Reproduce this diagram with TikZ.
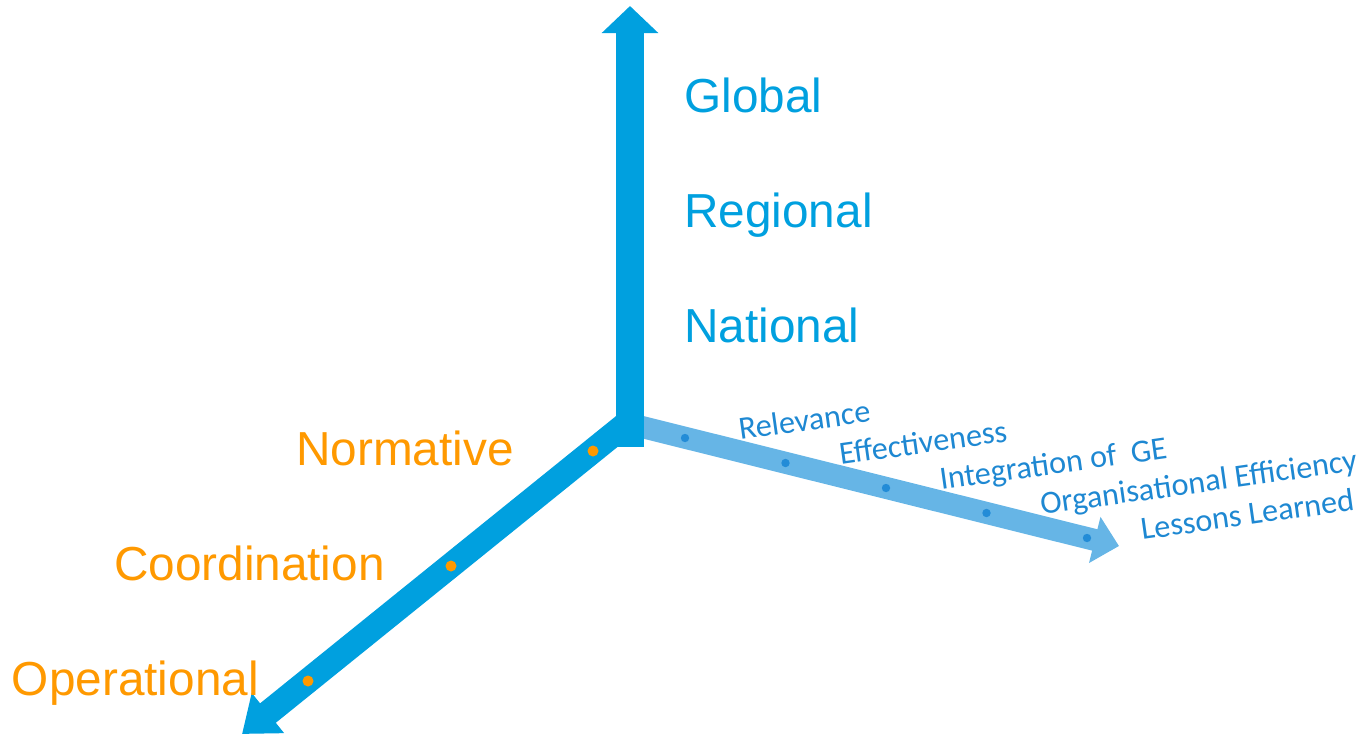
\documentclass[tikz,border=0pt]{standalone}
\usepackage{fontspec}
\setmainfont{Liberation Sans}
\newfontfamily\calibrifont{Carlito}
\usepackage{tikz}
\usetikzlibrary{arrows.meta}
\definecolor{axisblue}{RGB}{0,160,223}
\definecolor{critblue}{RGB}{102,181,230}
\definecolor{critdot}{RGB}{35,140,215}
\definecolor{labelblue}{RGB}{30,136,210}
\definecolor{levelorange}{RGB}{255,153,0}

\begin{document}
\begin{tikzpicture}[x=0.75pt, y=-0.75pt,
    bigtext/.style={font=\fontsize{35.8}{42}\selectfont, inner sep=0pt},
    crittext/.style={font=\calibrifont\fontsize{24.2}{29}\selectfont, text=labelblue,
        inner sep=0pt, anchor=base west, rotate=8}]
\useasboundingbox (0,0) rectangle (1367,736);
\coordinate (origin) at (630,424);
\coordinate (top) at (630,6);
\coordinate (front) at (242,734);
\coordinate (right) at (1119,546);
% criteria axis
\draw[critblue, line width=16.5pt, -{Triangle[length=18.75pt, width=34.5pt]}] (origin) -- (right);
% level axis
\draw[axisblue, line width=18.75pt, -{Triangle[length=25pt, width=37pt]}] (636,416) -- (front);
% scope axis
\draw[axisblue, line width=21pt, -{Triangle[length=20.25pt, width=41.25pt]}] (630,447) -- (top);
\node[bigtext, text=axisblue, anchor=base west] (global) at (684,112) {Global};
\node[bigtext, text=axisblue, anchor=base west] (regional) at (684,227) {Regional};
\node[bigtext, text=axisblue, anchor=base west] (national) at (684,342) {National};
\node[bigtext, text=levelorange, anchor=base east] (normative) at (514,465) {Normative};
\node[bigtext, text=levelorange, anchor=base east] (coordination) at (385,580) {Coordination};
\node[bigtext, text=levelorange, anchor=base east] (operational) at (259,695) {Operational};
\fill[levelorange] (593,451) circle (5.5);
\fill[levelorange] (451,566) circle (5.5);
\fill[levelorange] (308,681) circle (5.5);
\foreach \i in {0,...,4}
    \fill[critdot] (685+100.5*\i, 438+25*\i) circle (4.2);
\node[crittext] (relevance) at (740,440) {Relevance};
\node[crittext] (effectiveness) at (840.5,465) {Effectiveness};
\node[crittext] (integration) at (941,490) {Integration of\ \ GE};
\node[crittext] (efficiency) at (1041.5,515) {Organisational Efficiency};
\node[crittext] (lessons) at (1142,540) {Lessons Learned};
\end{tikzpicture}
\end{document}
